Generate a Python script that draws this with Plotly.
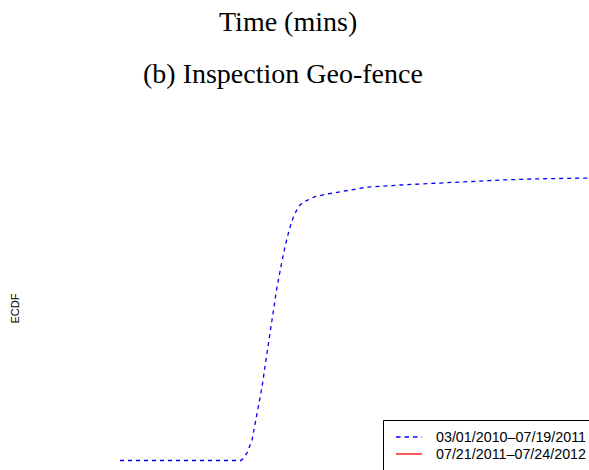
import plotly.graph_objects as go

# ECDF of time spent inside the inspection geo-fence
time_min = [0, 60.5, 62, 63.5, 66, 68.5, 71, 73.5, 76, 78.5, 80.8, 82.5, 84.6,
            86.7, 89.2, 91.2, 93.3, 97.5, 103, 110, 123, 140, 157, 173, 190,
            207, 235]
ecdf_p1 = [0, 0, 0.01, 0.026, 0.07, 0.164, 0.253, 0.371, 0.484, 0.598, 0.68,
           0.738, 0.795, 0.84, 0.875, 0.889, 0.896, 0.91, 0.918, 0.927, 0.942,
           0.95, 0.956, 0.961, 0.967, 0.971, 0.974]

legend_labels = ["03/01/2010\u201307/19/2011", "07/21/2011\u201307/24/2012"]
legend_colors = ["#0000ff", "#ff0000"]
legend_dash = ["4.5px,4px", "solid"]

W, H = 589, 470


def px(p):
    return p / W


def py(p):
    return 1 - p / H


fig = go.Figure()
fig.add_trace(go.Scatter(
    x=time_min, y=ecdf_p1, mode="lines",
    line=dict(color=legend_colors[0], width=1.3, dash="4px,4px"),
    name=legend_labels[0], showlegend=False, hoverinfo="skip",
))

shapes = [dict(type="rect", xref="paper", yref="paper",
               x0=px(383.5), x1=px(640), y0=py(420.5), y1=py(520),
               line=dict(color="black", width=1), fillcolor="white", layer="above")]
annotations = [
    dict(text="Time (mins)", x=px(288), y=py(22), xref="paper", yref="paper",
         showarrow=False, xanchor="center", yanchor="middle",
         font=dict(family="Liberation Serif", size=28, color="black")),
    dict(text="(b) Inspection Geo-fence", x=px(283), y=py(73), xref="paper", yref="paper",
         showarrow=False, xanchor="center", yanchor="middle",
         font=dict(family="Liberation Serif", size=28, color="black")),
    dict(text="ECDF", x=px(14.5), y=py(309), xref="paper", yref="paper",
         showarrow=False, xanchor="center", yanchor="middle", textangle=-90,
         font=dict(family="Liberation Sans", size=11, color="black")),
]
for i, (lab, col, dsh) in enumerate(zip(legend_labels, legend_colors, legend_dash)):
    yc = 437 + i * 17
    shapes.append(dict(type="line", xref="paper", yref="paper",
                       x0=px(396), x1=px(422), y0=py(yc), y1=py(yc),
                       line=dict(color=col, width=1.3, dash=dsh), layer="above"))
    annotations.append(dict(text=lab, x=px(434), y=py(yc), xref="paper", yref="paper",
                            showarrow=False, xanchor="left", yanchor="middle",
                            font=dict(family="Liberation Sans", size=14.3, color="black")))

fig.update_layout(
    width=W, height=H,
    margin=dict(l=0, r=0, t=0, b=0),
    paper_bgcolor="white", plot_bgcolor="white",
    xaxis=dict(visible=False, range=[-60, 234.5], domain=[0, 1]),
    yaxis=dict(visible=False, range=[(460.5 - 470) / 290, 460.5 / 290], domain=[0, 1]),
    shapes=shapes, annotations=annotations,
)

fig.write_html("out.html")
